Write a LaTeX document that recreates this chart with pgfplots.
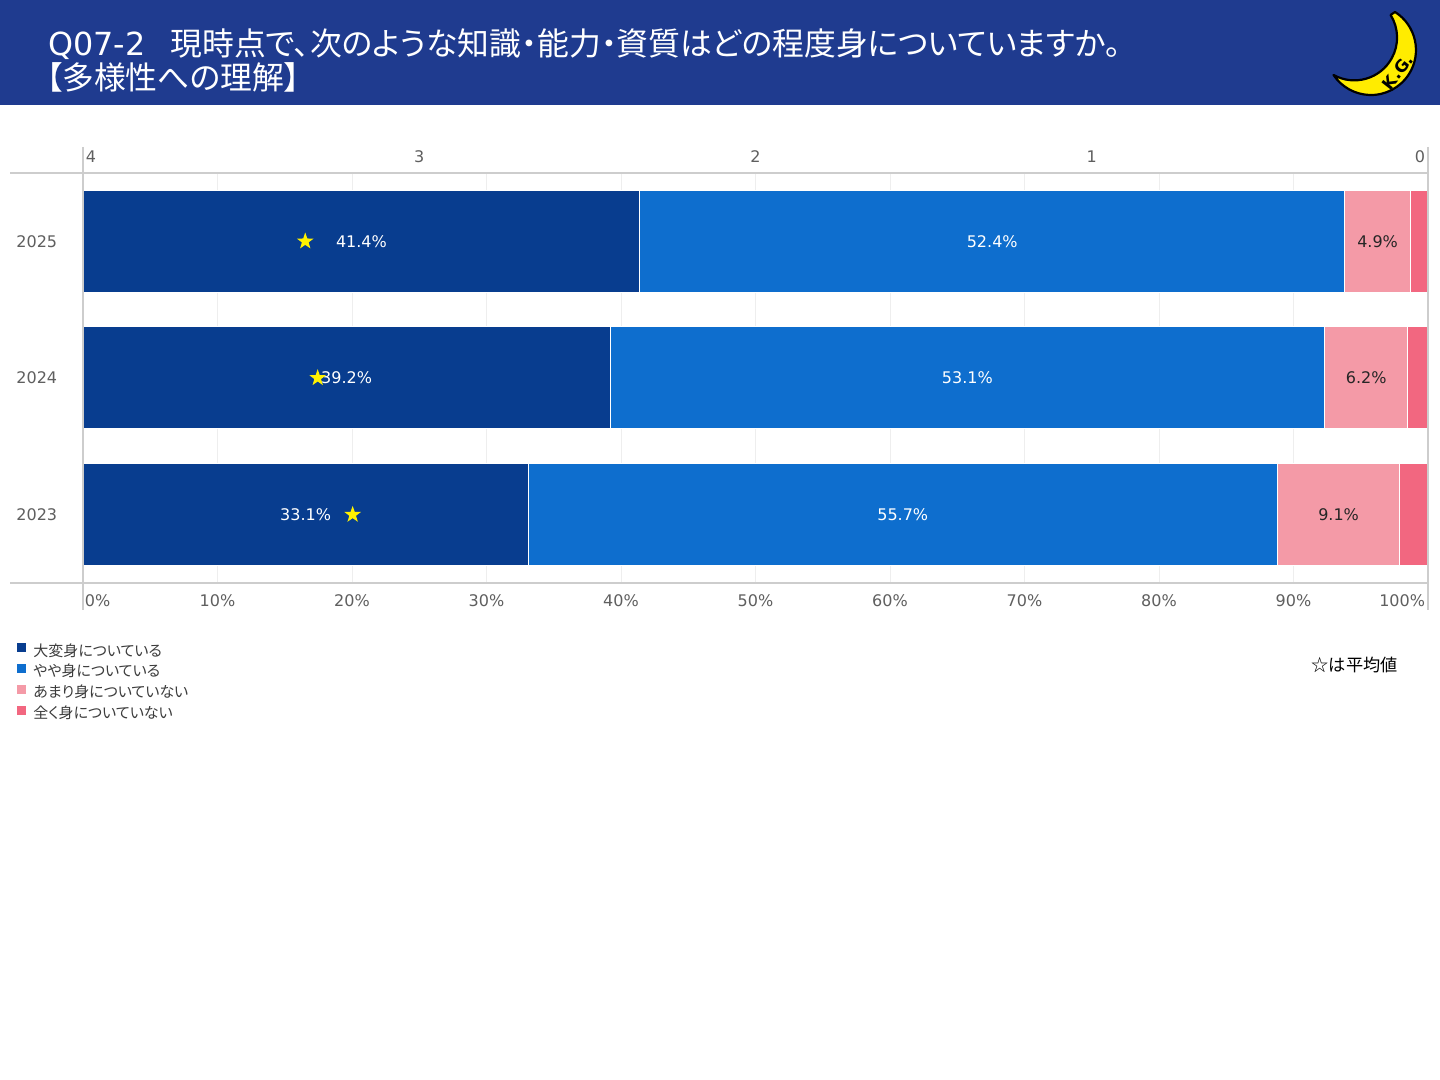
\documentclass[border=0pt]{standalone}
\usepackage{fontspec}
\setmainfont[RawFeature=+palt]{Noto Sans CJK JP}
\newfontfamily\numfont{DejaVu Sans}
\usepackage{pgfplots}
\pgfplotsset{compat=1.18}
\definecolor{hdr}{RGB}{31,59,143}
\definecolor{cA}{RGB}{8,61,143}
\definecolor{cB}{RGB}{14,110,206}
\definecolor{cC}{RGB}{244,154,167}
\definecolor{cD}{RGB}{242,103,128}
\definecolor{tick}{RGB}{95,95,95}
\definecolor{gridc}{RGB}{238,238,238}
\definecolor{axisc}{RGB}{205,205,205}
\definecolor{staryellow}{RGB}{255,242,0}
\definecolor{moony}{RGB}{255,236,0}
\definecolor{legtext}{RGB}{60,60,60}
\pgfdeclareplotmark{fstar}{%
 \pgfpathmoveto{\pgfpointpolar{90}{\pgfplotmarksize}}%
 \pgfpathlineto{\pgfpointpolar{126}{0.4\pgfplotmarksize}}%
 \pgfpathlineto{\pgfpointpolar{162}{\pgfplotmarksize}}%
 \pgfpathlineto{\pgfpointpolar{198}{0.4\pgfplotmarksize}}%
 \pgfpathlineto{\pgfpointpolar{234}{\pgfplotmarksize}}%
 \pgfpathlineto{\pgfpointpolar{270}{0.4\pgfplotmarksize}}%
 \pgfpathlineto{\pgfpointpolar{306}{\pgfplotmarksize}}%
 \pgfpathlineto{\pgfpointpolar{342}{0.4\pgfplotmarksize}}%
 \pgfpathlineto{\pgfpointpolar{18}{\pgfplotmarksize}}%
 \pgfpathlineto{\pgfpointpolar{54}{0.4\pgfplotmarksize}}%
 \pgfpathclose
 \pgfusepathqfill}
\begin{document}
\begin{tikzpicture}
\fill[white] (0,0) rectangle (720pt,540pt);
% header band
\fill[hdr] (0,487.5pt) rectangle (720pt,540pt);
\node[anchor=base west, text=white, inner sep=0pt, font=\fontsize{15.9}{18}\selectfont] at (24pt,512pt)
  {{\numfont Q07-2}\hspace{12.5pt}現時点で、次のような知識・能力・資質はどの程度身についていますか。};
\node[anchor=base west, text=white, inner sep=0pt, font=\fontsize{15.9}{18}\selectfont] at (23pt,495pt)
  {【多様性への理解】};
% moon logo
\begin{scope}[x=0.5pt,y=0.5pt]
\filldraw[fill=moony, draw=black, line width=1.1pt, line join=round]
  (1395,1068) arc[start angle=57.7, end angle=-146.3, radius=45]
  arc[start angle=-119, end angle=31.9, radius=42.8] -- cycle;
\node[rotate=52, inner sep=0pt, font=\numfont\bfseries\fontsize{8.3}{9}\selectfont] at (1398,1008) {K.G.};
\end{scope}

% main bar axis
\begin{axis}[
  at={(41.5pt,248.5pt)}, anchor=south west,
  scale only axis, width=672.5pt, height=205pt,
  xmin=0, xmax=100, ymin=-0.5, ymax=2.5,
  xbar stacked, bar width=51pt,
  axis line style={draw=none},
  major tick length=0pt,
  xtick={0,10,...,100},
  xticklabels={\makebox[0pt][l]{\hspace{1pt}0\%},10\%,20\%,30\%,40\%,50\%,60\%,70\%,80\%,90\%,\makebox[0pt][r]{100\%\hspace{1.5pt}}},
  xticklabel style={font=\numfont\fontsize{8}{9}\selectfont, text=tick, anchor=center, yshift=-9pt},
  ytick={0,1,2}, yticklabels={2023,2024,2025},
  yticklabel style={font=\numfont\fontsize{8}{9}\selectfont, text=tick, anchor=west, inner sep=0pt, xshift=-33.5pt},
  xmajorgrids, ymajorgrids=false,
  major grid style={draw=gridc, line width=0.5pt},
  legend style={at={(-0.0498,-0.144)}, anchor=north west, draw=none, fill=none,
    inner sep=0pt, font=\fontsize{7.5}{9}\selectfont, text=legtext,
    nodes={inner sep=0pt, text height=6.5pt, text depth=2pt},
    row sep=1.55pt, column sep=3pt},
  legend cell align=left,
  legend image code/.code={\fill[#1] (0pt,-0.7pt) rectangle (5pt,4.3pt);},
]
\addplot[fill=cA, draw=white, line width=0.5pt] coordinates {(33.1,0) (39.2,1) (41.4,2)};
\addplot[fill=cB, draw=white, line width=0.5pt] coordinates {(55.7,0) (53.1,1) (52.4,2)};
\addplot[fill=cC, draw=white, line width=0.5pt] coordinates {(9.1,0) (6.2,1) (4.9,2)};
\addplot[fill=cD, draw=white, line width=0.5pt] coordinates {(2.1,0) (1.5,1) (1.3,2)};
\legend{大変身についている,やや身についている,あまり身についていない,全く身についていない}
\end{axis}

% value labels (centres of the segments)
\begin{axis}[
  at={(41.5pt,248.5pt)}, anchor=south west,
  scale only axis, width=672.5pt, height=205pt,
  xmin=0, xmax=100, ymin=-0.5, ymax=2.5, hide axis,
]
\addplot[draw=none, nodes near coords, point meta=explicit symbolic,
  nodes near coords style={anchor=center, text=white, inner sep=0pt, font=\numfont\fontsize{8}{9}\selectfont}]
  coordinates {(16.55,0)[33.1\%] (19.6,1)[39.2\%] (20.7,2)[41.4\%]
               (60.95,0)[55.7\%] (65.75,1)[53.1\%] (67.6,2)[52.4\%]};
\addplot[draw=none, nodes near coords, point meta=explicit symbolic,
  nodes near coords style={anchor=center, text=black!85, inner sep=0pt, font=\numfont\fontsize{8}{9}\selectfont}]
  coordinates {(93.35,0)[9.1\%] (95.4,1)[6.2\%] (96.25,2)[4.9\%]};
\end{axis}

% top 4..0 scale with averages
\begin{axis}[
  at={(41.5pt,248.5pt)}, anchor=south west,
  scale only axis, width=672.5pt, height=205pt,
  xmin=0, xmax=4, x dir=reverse, ymin=-0.5, ymax=2.5,
  axis line style={draw=none}, major tick length=0pt,
  xtick={0,1,2,3,4},
  xticklabels={\makebox[0pt][r]{0\hspace{1.5pt}},1,2,3,\makebox[0pt][l]{\hspace{1.5pt}4}},
  xticklabel pos=upper,
  xticklabel style={font=\numfont\fontsize{8}{9}\selectfont, text=tick, anchor=center, yshift=8pt},
  ytick=\empty,
]
\addplot[only marks, mark=fstar, mark size=4.4pt, color=staryellow]
  coordinates {(3.339,2) (3.302,1) (3.198,0)};
\end{axis}

% frame lines
\begin{scope}[x=0.5pt,y=0.5pt]
\draw[axisc, line width=0.6pt] (10,907) -- (1428,907);
\draw[axisc, line width=0.6pt] (10,497) -- (1428,497);
\draw[axisc, line width=0.6pt] (83,933) -- (83,470);
\draw[axisc, line width=0.6pt] (1428,933) -- (1428,470);
\node[anchor=east, inner sep=0pt, font=\fontsize{8.6}{10}\selectfont] at (1398,415) {☆は平均値};
\end{scope}
\pgfresetboundingbox
\path (0,0) rectangle (720pt,540pt);
\end{tikzpicture}
\end{document}
